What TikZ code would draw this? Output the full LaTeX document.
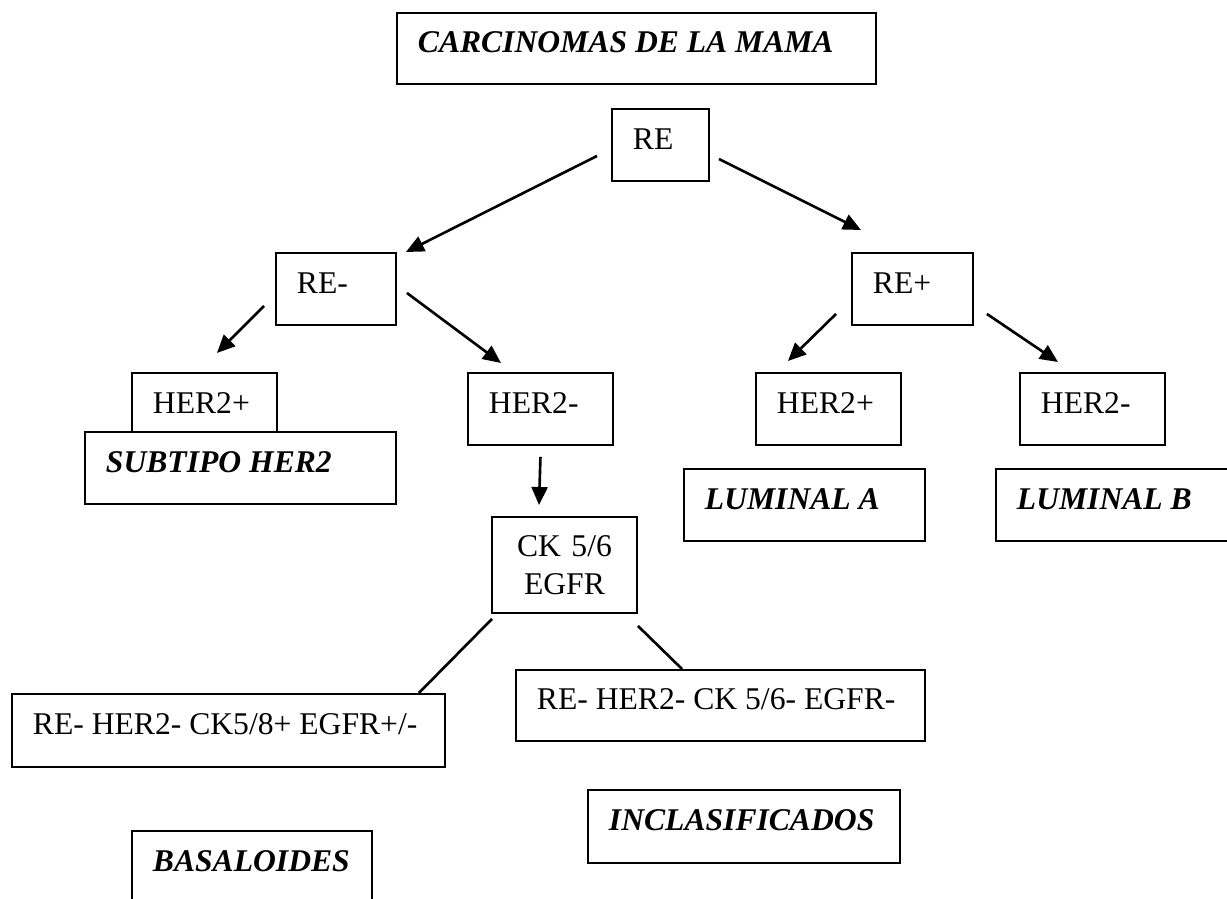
\documentclass[tikz,border=0pt]{standalone}
\usepackage{fontspec}
\setmainfont{Liberation Serif}
\usetikzlibrary{arrows.meta}
\hyphenpenalty=10000
\exhyphenpenalty=10000

\begin{document}
\begin{tikzpicture}[x=0.02cm,y=-0.02cm,>={Triangle[length=0.36cm,width=0.32cm]},
    box/.style={draw, line width=1.1pt, fill=white, anchor=north west, align=flush left,
        inner xsep=0.42cm, inner ysep=0pt, text height=0.42cm, text depth=0.24cm,
        minimum height=1.44cm, font=\fontsize{18}{21.6}\selectfont},
    tipo/.style={box, font=\fontsize{18}{21.6}\selectfont\bfseries\itshape},
    flecha/.style={->, line width=1.5pt}]
            \clip (0,0) rectangle (1227,899);
            % cajas
            \node[tipo, text width=8.74cm, minimum height=1.42cm] (carcinomas) at (396,12) {CARCINOMAS DE LA MAMA};
            \node[box, text width=1.10cm] (re) at (611,108) {RE};
            \node[box, text width=1.56cm] (reneg) at (275,252) {RE-};
            \node[box, text width=1.58cm] (repos) at (851,252) {RE+};
            \node[box, text width=2.06cm] (herposl) at (131,372) {HER2+};
            \node[tipo, text width=5.38cm] (subtipo) at (84,431) {SUBTIPO HER2};
            \node[box, text width=2.06cm] (hernegm) at (467,372) {HER2-};
            \node[box, text width=2.06cm] (herposr) at (755,372) {HER2+};
            \node[box, text width=2.06cm] (hernegr) at (1019,372) {HER2-};
            \node[tipo, text width=3.98cm] (luminala) at (683,468) {LUMINAL A};
            \node[tipo, text width=4.06cm] (luminalb) at (995,468) {LUMINAL B};
            \node[box, text width=2.06cm, align=center, text depth=0.76cm, minimum height=1.92cm] (ck) at (491,516) {CK 5/6\\EGFR};
            \node[box, text width=7.82cm, minimum height=1.46cm] (basal) at (11,693) {RE- HER2- CK5/8+ EGFR+/-};
            \node[box, text width=7.34cm, minimum height=1.42cm] (triple) at (515,669) {RE- HER2- CK 5/6- EGFR-};
            \node[tipo, text width=5.40cm, minimum height=1.46cm] (inclas) at (587,789) {INCLASIFICADOS};
            \node[tipo, text width=3.96cm] (basaloides) at (131,830) {BASALOIDES};

            % flechas
            \draw[flecha] ([shift={(-14,11)}]re.west) -- ([shift={(9,0)}]reneg.north east);
            \draw[flecha] ([shift={(9,14)}]re.east) -- ([shift={(10,-22)}]repos.north west);
            \draw[flecha] ([shift={(-11,17)}]reneg.west) -- ([shift={(12.5,-19)}]herposl.north);
            \draw[flecha] ([shift={(10,4)}]reneg.east) -- ([shift={(34,-9)}]hernegm.north west);
            \draw[flecha] ([shift={(0,11)}]hernegm.south) -- ([shift={(48,-11)}]ck.north west);
            \draw[flecha] ([shift={(-15,25)}]repos.west) -- ([shift={(33,-11)}]herposr.north west);
            \draw[flecha] ([shift={(13,25)}]repos.east) -- ([shift={(39,-10)}]hernegr.north west);
            \draw[line width=1.5pt] ([shift={(1,5)}]ck.south west) -- ([shift={(-27,0)}]basal.north east);
            \draw[line width=1.5pt] ([shift={(0,12)}]ck.south east) -- ([shift={(167,0)}]triple.north west);
\end{tikzpicture}
\end{document}
